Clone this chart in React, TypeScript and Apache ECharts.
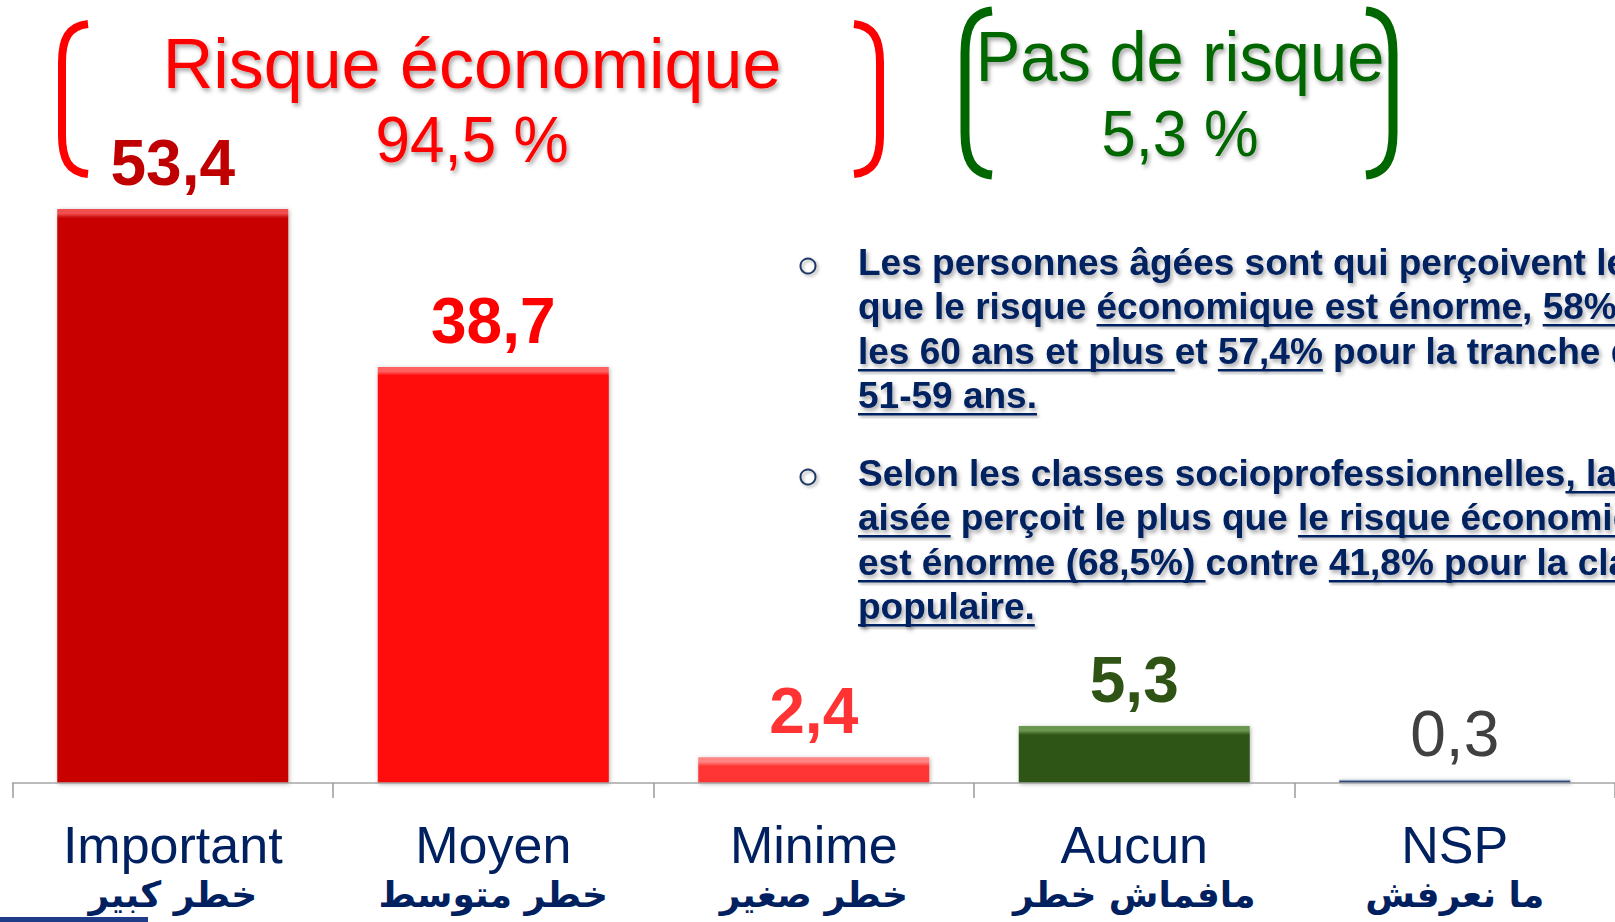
import React, { useEffect, useRef } from "react";
import * as echarts from "echarts";

// ---------- data ----------
const categories = ["Important", "Moyen", "Minime", "Aucun", "NSP"];
const arabicLabels = ["خطر كبير", "خطر متوسط", "خطر صغير", "مافماش خطر", "ما نعرفش"];
const values = [53.4, 38.7, 2.4, 5.3, 0.3];
const groupTitles = ["Risque économique", "Pas de risque"];
const groupTotals = [94.5, 5.3];
const yMax = 60;

// paragraph lines: [text, underlined]
const paragraph1: [string, boolean][][] = [
  [["Les personnes âgées sont qui perçoivent le", false]],
  [["que le risque ", false], ["économique est énorme", true], [", ", false], ["58%", true]],
  [["les 60 ans et plus ", true], ["et ", false], ["57,4%", true], [" pour la tranche de", false]],
  [["51-59 ans.", true]],
];
const paragraph2: [string, boolean][][] = [
  [["Selon les classes socioprofessionnelles", false], [", la classe", true]],
  [["aisée", true], [" perçoit le plus que ", false], ["le risque économique", true]],
  [["est énorme (68,5%) ", true], ["contre ", false], ["41,8% pour la classe", true]],
  [["populaire.", true]],
];

// ---------- styles ----------
const BAR_COLORS = ["#C80404", "#FF0707", "#FF3535", "#2F5416", "#2E4A7D"];
const BAR_TOP = ["#F05050", "#FF6060", "#FF8585", "#6A9650", "#9AA8C4"];
const LABEL_COLORS = ["#C00000", "#FF0000", "#FF3333", "#2F5315", "#404040"];
const LABEL_WEIGHTS = ["bold", "bold", "bold", "bold", "normal"];
const NAVY = "#002060";
const GRID = { left: 12.5, top: 138, width: 1606, height: 645 };

const fmt = (v: number) => String(v).replace(".", ",");

function bracketPath(w: number, h: number) {
  return `M ${w} 4 C ${w * 0.35} 6 4 ${h * 0.12} 4 ${h * 0.27} L 4 ${h * 0.73} C 4 ${h * 0.88} ${w * 0.35} ${h - 6} ${w} ${h - 4}`;
}
echarts.graphic.registerShape("bracketRed", echarts.graphic.extendPath(bracketPath(30, 158), {}) as any);
echarts.graphic.registerShape("bracketGreen", echarts.graphic.extendPath(bracketPath(31, 172), {}) as any);

const SHADOW = {
  textShadowColor: "rgba(0,0,0,0.35)",
  textShadowBlur: 4,
  textShadowOffsetX: 2,
  textShadowOffsetY: 3,
};

export default function App() {
  const ref = useRef<HTMLDivElement>(null);

  useEffect(() => {
    if (!ref.current) return;
    const chart = echarts.init(ref.current, undefined, { renderer: "svg" });

    const PFONT = 37;
    const pFontStr = `bold ${PFONT}px "Liberation Sans"`;
    const ctx = document.createElement("canvas").getContext("2d")!;
    ctx.font = pFontStr;
    const measure = (s: string) => ctx.measureText(s).width;

    const graphics: any[] = [];

    // brackets
    graphics.push(
      { type: "bracketRed", x: 58, y: 20, style: { stroke: "#FF0000", lineWidth: 8, fill: "none" } },
      { type: "bracketRed", x: 884, y: 20, scaleX: -1, style: { stroke: "#FF0000", lineWidth: 8, fill: "none" } },
      { type: "bracketGreen", x: 961, y: 7, style: { stroke: "#006600", lineWidth: 9, fill: "none" } },
      { type: "bracketGreen", x: 1397, y: 7, scaleX: -1, style: { stroke: "#006600", lineWidth: 9, fill: "none" } }
    );

    // group titles
    const titleCfg = [
      { cx: 472, ty: 64, vy: 140, color: "#FF0000", sT: 1.0, sV: 0.97 },
      { cx: 1180, ty: 57, vy: 134, color: "#006600", sT: 0.955, sV: 0.96 },
    ];
    groupTitles.forEach((t, i) => {
      const c = titleCfg[i];
      graphics.push({
        type: "text",
        x: c.cx,
        y: c.ty,
        scaleX: c.sT,
        style: {
          text: t,
          x: 0,
          y: 0,
          fill: c.color,
          fontSize: 70,
          fontFamily: "Liberation Sans",
          align: "center",
          verticalAlign: "middle",
          ...SHADOW,
        },
      });
      graphics.push({
        type: "text",
        x: c.cx,
        y: c.vy,
        scaleX: c.sV,
        style: {
          text: fmt(groupTotals[i]) + " %",
          x: 0,
          y: 0,
          fill: c.color,
          fontSize: 64,
          fontFamily: "Liberation Sans",
          align: "center",
          verticalAlign: "middle",
          ...SHADOW,
        },
      });
    });

    // paragraphs
    const textX = 858;
    const addParagraph = (lines: [string, boolean][][], baselines: number[], bulletY: number) => {
      graphics.push({
        type: "circle",
        shape: { cx: 808, cy: bulletY, r: 7.5 },
        style: { fill: "none", stroke: "#1F3864", lineWidth: 2, shadowColor: "rgba(0,0,0,0.3)", shadowBlur: 3, shadowOffsetX: 2, shadowOffsetY: 2 },
      });
      lines.forEach((segs, li) => {
        const B = baselines[li];
        const full = segs.map((s) => s[0]).join("");
        graphics.push({
          type: "text",
          style: {
            text: full,
            x: textX,
            y: B - 0.3465 * PFONT,
            fill: NAVY,
            font: pFontStr,
            align: "left",
            verticalAlign: "middle",
            ...SHADOW,
          },
        });
        let prefix = "";
        segs.forEach(([s, u]) => {
          const x0 = textX + measure(prefix);
          const w = measure(s);
          if (u) {
            graphics.push({
              type: "rect",
              shape: { x: x0, y: B + 5, width: w, height: 2.6 },
              style: { fill: NAVY, shadowColor: "rgba(0,0,0,0.3)", shadowBlur: 3, shadowOffsetX: 2, shadowOffsetY: 2 },
            });
          }
          prefix += s;
        });
      });
    };
    addParagraph(paragraph1, [275, 319, 364, 408], 266);
    addParagraph(paragraph2, [486, 530, 575, 619], 477);

    // decorative line bottom-left
    graphics.push({ type: "rect", shape: { x: 0, y: 917, width: 148, height: 5 }, style: { fill: "#1F3C88" } });

    const data = values.map((v, i) => {
      const px = (v / yMax) * GRID.height;
      const f = Math.min(0.4, 9 / Math.max(px, 1));
      return {
        value: v,
        itemStyle: {
          color: new echarts.graphic.LinearGradient(0, 0, 0, 1, [
            { offset: 0, color: BAR_TOP[i] },
            { offset: f * 0.5, color: BAR_TOP[i] },
            { offset: f, color: BAR_COLORS[i] },
            { offset: 1, color: BAR_COLORS[i] },
          ]),
          shadowColor: "rgba(0,0,0,0.3)",
          shadowBlur: 4,
          shadowOffsetX: 1,
          shadowOffsetY: 1,
        },
        label: { color: LABEL_COLORS[i], fontWeight: LABEL_WEIGHTS[i] },
      };
    });

    chart.setOption({
      animation: false,
      backgroundColor: "#ffffff",
      grid: { ...GRID },
      xAxis: {
        type: "category",
        data: categories,
        z: 5,
        axisLine: { show: true, lineStyle: { color: "#A6A6A6", width: 1.5 } },
        axisTick: { show: true, interval: 0, alignWithLabel: false, length: 15, lineStyle: { color: "#9A9A9A", width: 1.5 } },
        axisLabel: {
          interval: 0,
          margin: 36,
          formatter: (v: string, i: number) => `{a|${v}}\n{b|${arabicLabels[i]}}`,
          rich: {
            a: { fontSize: 52, fontFamily: "Liberation Sans", color: NAVY, lineHeight: 52 },
            b: { fontSize: 36, fontFamily: "DejaVu Sans", fontWeight: "bold", color: NAVY, lineHeight: 46 },
          },
        },
      },
      yAxis: { type: "value", min: 0, max: yMax, show: false, splitLine: { show: false } },
      series: [
        {
          type: "bar",
          barWidth: 231,
          data,
          label: {
            show: true,
            position: "top",
            distance: 14,
            fontSize: 64,
            fontFamily: "Liberation Sans",
            formatter: (p: any) => fmt(p.value),
          },
        },
      ],
      graphic: graphics,
    });

    return () => chart.dispose();
  }, []);

  return (
    <div
      ref={ref}
      style={{ position: "absolute", left: 0, top: 0, width: 1615, height: 922, background: "#fff" }}
    />
  );
}
